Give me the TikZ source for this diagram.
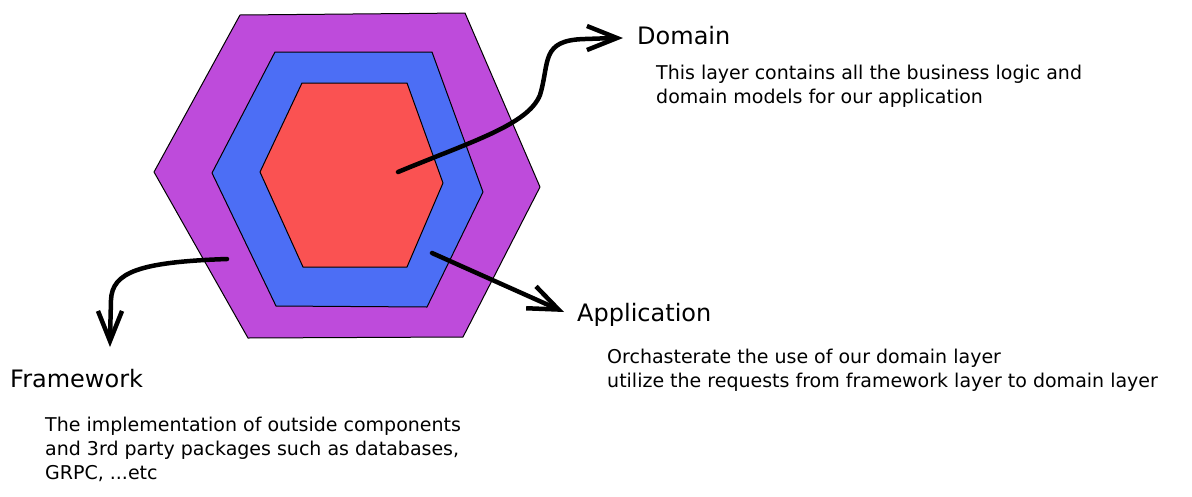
\documentclass[tikz,border=0pt]{standalone}
\usepackage{fontspec}
\setmainfont{DejaVu Sans}
\usetikzlibrary{arrows.meta}
\definecolor{hexpurple}{HTML}{BE4BDB}
\definecolor{hexblue}{HTML}{4C6EF5}
\definecolor{hexred}{HTML}{FA5252}
\tikzset{
  hexlayer/.style={draw=black, line width=1pt, line join=round},
  callout/.style={draw=black, line width=4.5pt, line cap=round, line join=round,
    -{Straight Barb[length=30pt, width=24pt, line width=4.5pt]}},
  titletext/.style={inner sep=0pt, anchor=base west, font=\fontsize{24}{28}\selectfont},
  desctext/.style={inner sep=0pt, anchor=base west, align=left, font=\fontsize{19}{24}\selectfont},
}
\begin{document}
\begin{tikzpicture}[x=1pt, y=-1pt]
\useasboundingbox (0,0) rectangle (1192,496);
% hexagon layers
\filldraw[hexlayer, fill=hexpurple] (240,15) -- (465,13) -- (540,187) -- (463,337) -- (248,338) -- (154,172) -- cycle;
\filldraw[hexlayer, fill=hexblue] (275,52) -- (432,52) -- (483,192) -- (427,307) -- (276,306) -- (212,173) -- cycle;
\filldraw[hexlayer, fill=hexred] (302,83) -- (407,83) -- (443,183) -- (407,267) -- (303,267) -- (260,172) -- cycle;
% anchor points inside layers
\coordinate (domainpt) at (398,172);
\coordinate (apppt) at (432,253);
\coordinate (fwpt) at (227,259);
% arrow tips
\coordinate (domaintip) at (623,38);
\coordinate (apptip) at (564,312);
\coordinate (fwtip) at (110,347);
% titles
\node[titletext] (domain) at (637,44) {Domain};
\node[titletext] (application) at (577,321) {Application};
\node[titletext] (framework) at (10,387) {Framework};
% descriptions (base anchor = baseline of last line)
\node[desctext] (domaindesc) at (656,103) {This layer contains all the business logic and\\domain models for our application};
\node[desctext] (appdesc) at (607,387) {Orchasterate the use of our domain layer\\utilize the requests from framework layer to domain layer};
\node[desctext] (fwdesc) at (45,479) {The implementation of outside components\\and 3rd party packages such as databases,\\GRPC, ...etc};
% connectors
\draw[callout] (domainpt) .. controls (470,142) and (528,125) .. (540,95)
  .. controls (550,62) and (540,40) .. (585,39) .. controls (600,38) .. (domaintip);
\draw[callout] (apppt) -- (apptip);
\draw[callout] (fwpt) .. controls (140,262) and (112,272) .. (111,300) .. controls (110,320) .. (fwtip);
\end{tikzpicture}
\end{document}
